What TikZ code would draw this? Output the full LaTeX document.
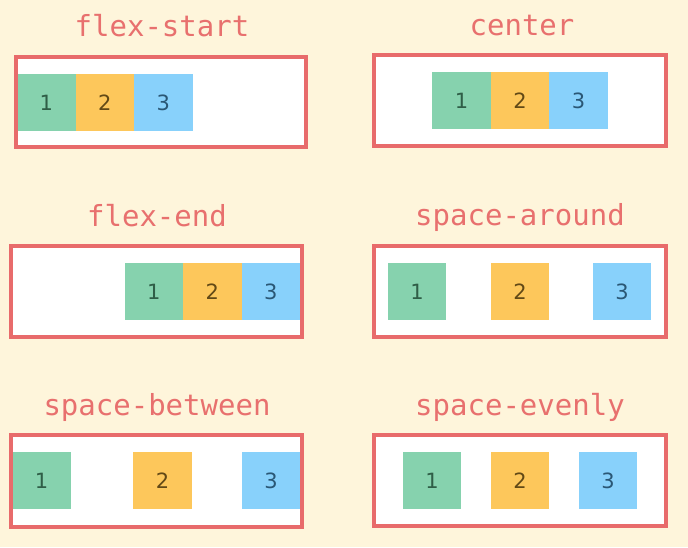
\documentclass[tikz,border=0pt]{standalone}
\usepackage{fontspec}
\newfontfamily\titlefont{DejaVu Sans Mono}
\newfontfamily\numfont{DejaVu Sans}
\definecolor{bg}{HTML}{FEF5DB}
\definecolor{redline}{HTML}{E86B6B}
\definecolor{titlecol}{HTML}{E8706E}
\definecolor{gfill}{HTML}{86D2AE}
\definecolor{yfill}{HTML}{FDC75B}
\definecolor{bfill}{HTML}{88D1FB}
\definecolor{gtext}{HTML}{2F5E47}
\definecolor{ytext}{HTML}{624916}
\definecolor{btext}{HTML}{2A5775}
\tikzset{
  box/.style={fill=white, minimum width=#1, minimum height=91pt, inner sep=0pt, outer sep=0pt},
  border/.style={draw=redline, line width=3.2pt},
  item/.style={minimum width=58.5pt, minimum height=57pt, inner sep=0pt, font=\numfont\fontsize{21}{21}\selectfont},
  ig/.style={item, fill=gfill, text=gtext},
  iy/.style={item, fill=yfill, text=ytext},
  ib/.style={item, fill=bfill, text=btext},
  ttl/.style={anchor=base, text=titlecol, font=\titlefont\fontsize{29}{29}\selectfont, inner sep=0pt}
}
\begin{document}
\begin{tikzpicture}[x=1pt, y=-1pt]
\fill[bg] (0,0) rectangle (688,547);
\useasboundingbox (0,0) rectangle (688,547);
% titles
\node[ttl] (t1) at (162,36) {flex-start};
\node[ttl] (t2) at (522,35) {center};
\node[ttl] (t3) at (157,226) {flex-end};
\node[ttl] (t4) at (520,225) {space-around};
\node[ttl] (t5) at (157,415) {space-between};
\node[ttl] (t6) at (520,415) {space-evenly};
% containers
\node[box=290pt, minimum height=90pt] (c1) at (161,102) {};
\node[box=292pt] (c2) at (520,100.5) {};
\node[box=291pt] (c3) at (156.5,291.5) {};
\node[box=292pt] (c4) at (520,291.5) {};
\node[box=291pt, minimum height=92pt] (c5) at (156.5,481) {};
\node[box=292pt] (c6) at (520,480.5) {};
% flex-start
\node[ig] (a1) at (46.25,102.5) {1};
\node[iy] (a2) at (104.75,102.5) {2};
\node[ib] (a3) at (163.25,102.5) {3};
% center
\node[ig] (b1) at (461.5,100.5) {1};
\node[iy] (b2) at (520,100.5) {2};
\node[ib] (b3) at (578.5,100.5) {3};
% flex-end
\node[ig] (d1) at (153.75,291.5) {1};
\node[iy] (d2) at (212.25,291.5) {2};
\node[ib] (d3) at (270.75,291.5) {3};
% space-around
\node[ig] (e1) at (417,291.5) {1};
\node[iy] (e2) at (520,291.5) {2};
\node[ib] (e3) at (622,291.5) {3};
% space-between
\node[ig] (f1) at (41.5,480.5) {1};
\node[iy] (f2) at (162.5,480.5) {2};
\node[ib] (f3) at (271,480.5) {3};
% space-evenly
\node[ig] (g1) at (432,480.5) {1};
\node[iy] (g2) at (520,480.5) {2};
\node[ib] (g3) at (608,480.5) {3};
% borders
\foreach \c in {c1,c2,c3,c4,c5,c6}
  \draw[border] (\c.south west) rectangle (\c.north east);
\end{tikzpicture}
\end{document}
